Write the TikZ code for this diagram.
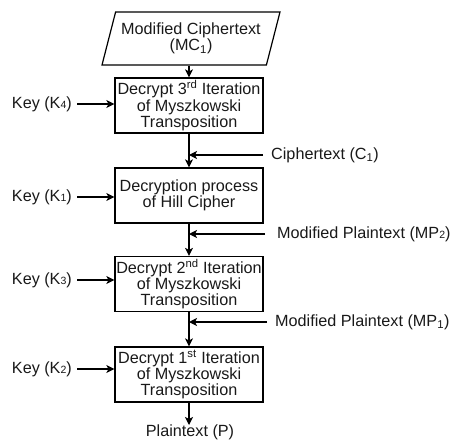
\documentclass[tikz,border=0pt]{standalone}
\usepackage{fontspec}
\setmainfont{Liberation Sans}
\usetikzlibrary{arrows.meta,shapes.geometric}
% small digit sitting on the baseline, as in "K4"
\newcommand{\smalldigit}[1]{{\fontsize{10.5}{10.5}\selectfont #1}}

\begin{document}
\begin{tikzpicture}[x=1pt,y=-1pt,
  every node/.style={font=\fontsize{16.2}{16.2}\selectfont, text=black!90},
  procbox/.style={draw, line width=1.2pt, minimum width=148pt, minimum height=55pt,
    align=center, inner sep=0pt},
  iobox/.style={draw, line width=1.2pt, shape=trapezium, trapezium left angle=66.5,
    trapezium right angle=113.5, trapezium stretches body, minimum width=178pt,
    minimum height=53pt, align=center, inner sep=0pt},
  lbl/.style={inner sep=0pt},
  flow/.style={line width=1.2pt, -{Stealth[length=8pt,width=8pt,inset=2pt]}}]
\useasboundingbox (0,0) rectangle (452,441);

% input
\node[iobox] (mc) at (191,38.5) {Modified Ciphertext\\(MC\textsubscript{1})};

% processing steps
\node[procbox] (b1) at (189,105.5) {Decrypt 3\textsuperscript{rd} Iteration\\of Myszkowski\\Transposition};
\node[procbox] (b2) at (189,195.5) {Decryption process\\of Hill Cipher};
\node[procbox] (b3) at (189,284) {Decrypt 2\textsuperscript{nd} Iteration\\of Myszkowski\\Transposition};
\node[procbox] (b4) at (189,374.5) {Decrypt 1\textsuperscript{st} Iteration\\of Myszkowski\\Transposition};

% keys
\node[lbl, anchor=east] (k4) at (72,104) {Key (K\smalldigit{4})};
\node[lbl, anchor=east] (k1) at (72,197) {Key (K\smalldigit{1})};
\node[lbl, anchor=east] (k3) at (72,280) {Key (K\smalldigit{3})};
\node[lbl, anchor=east] (k2) at (72,369) {Key (K\smalldigit{2})};

% intermediate texts
\node[lbl, anchor=west] (c1) at (271,155) {Ciphertext (C\textsubscript{1})};
\node[lbl, anchor=west] (mp2) at (277,234) {Modified Plaintext (MP\smalldigit{2})};
\node[lbl, anchor=west] (mp1) at (275,322) {Modified Plaintext (MP\textsubscript{1})};

% output
\node[lbl, anchor=north] (pt) at (190,425) {Plaintext (P)};

% main flow
\draw[flow] (mc.south -| b1.north) -- (b1.north);
\draw[flow] (b1.south) -- (b2.north);
\draw[flow] (b2.south) -- (b3.north);
\draw[flow] (b3.south) -- (b4.north);
\draw[flow] (b4.south) -- (pt.north -| b4.south);

% key inputs
\foreach \k/\b in {k4/b1, k1/b2, k3/b3, k2/b4}
  \draw[flow, shorten <=5pt] (\k.east) -- (\k.east -| \b.west);

% side inputs joining the flow
\draw[flow, shorten <=8pt] (c1.west) -- (c1.west -| b1.south);
\draw[flow, shorten <=12pt] (mp2.west) -- (mp2.west -| b2.south);
\draw[flow, shorten <=8pt] (mp1.west) -- (mp1.west -| b3.south);
\end{tikzpicture}
\end{document}
